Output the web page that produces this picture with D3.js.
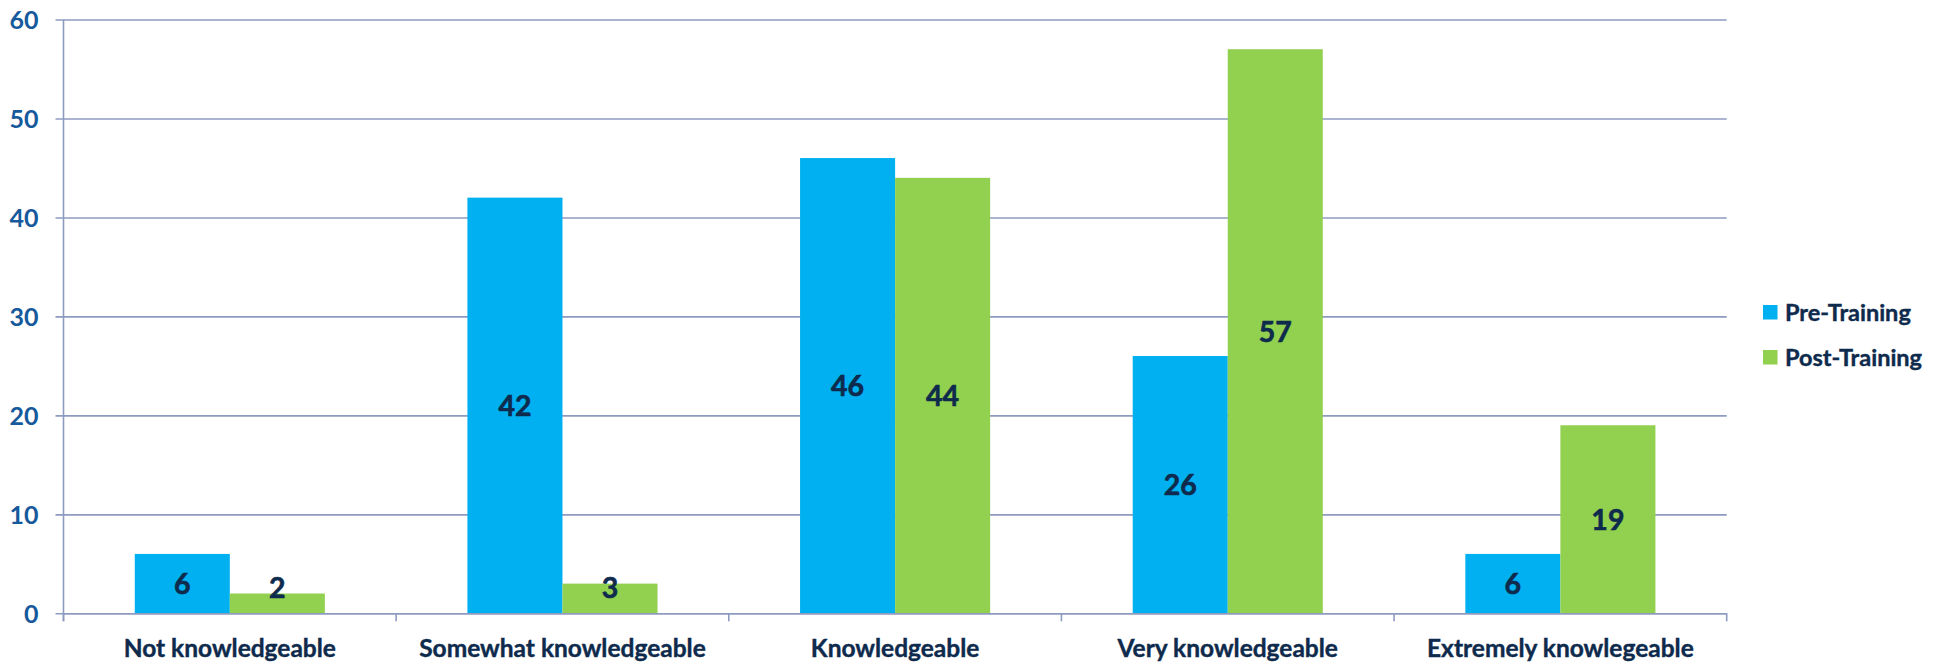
<!DOCTYPE html>
<html>
<head>
<meta charset="utf-8">
<script src="https://cdn.jsdelivr.net/npm/d3@7"></script>
<style>
  html, body { margin: 0; padding: 0; background: #fff; }
  svg { display: block; }
</style>
</head>
<body>
<svg id="chart" width="1952" height="664"></svg>
<script>
// Knowledge levels before and after training
const categories = ["Not knowledgeable", "Somewhat knowledgeable", "Knowledgeable", "Very knowledgeable", "Extremely knowlegeable"];
const seriesNames = ["Pre-Training", "Post-Training"];
const preTraining = [6, 42, 46, 26, 6];
const postTraining = [2, 3, 44, 57, 19];
const yTicks = [0, 10, 20, 30, 40, 50, 60];

const colors = { "Pre-Training": "#00B0F0", "Post-Training": "#92D050" };
const gridColor = "#8E9BC0";
const navy = "#0E2A4C";
const tickBlue = "#175A9C";
const font = "Lato, 'Open Sans', sans-serif";

const svg = d3.select("#chart");
const margin = { left: 63.5, right: 1726.7, top: 19.5, bottom: 613.3 };

const x = d3.scaleBand().domain(categories).range([margin.left, margin.right]).paddingInner(0).paddingOuter(0);
const groupPad = 1.5 / 3.5 / 2; // 150% gap between clusters
const xInner = d3.scaleBand().domain(seriesNames)
  .range([x.bandwidth() * groupPad, x.bandwidth() * (1 - groupPad)]);
const y = d3.scaleLinear().domain([0, 60]).range([margin.bottom, margin.top]);

// horizontal gridlines with short ticks on the left
const yAxis = d3.axisLeft(y).tickValues(yTicks).tickSize(-(margin.right - margin.left));
const gy = svg.append("g").attr("transform", `translate(${margin.left},0)`).call(yAxis);
gy.select(".domain").remove();
gy.selectAll(".tick line").attr("x1", -8).attr("stroke", gridColor).attr("stroke-width", 1.6);
gy.selectAll(".tick text")
  .attr("fill", tickBlue).attr("font-family", font).attr("font-weight", 700)
  .attr("font-size", 25).attr("x", -25).attr("dy", "0.36em");

// vertical axis line
svg.append("line").attr("x1", margin.left).attr("x2", margin.left)
  .attr("y1", y(60)).attr("y2", y(0) + 8)
  .attr("stroke", gridColor).attr("stroke-width", 1.6);

// bars
const rows = categories.map((c, i) => ({ c, values: [
  { s: "Pre-Training", v: preTraining[i] },
  { s: "Post-Training", v: postTraining[i] }
]}));

const groups = svg.append("g").selectAll("g").data(rows).join("g")
  .attr("transform", d => `translate(${x(d.c)},0)`);

groups.selectAll("rect").data(d => d.values).join("rect")
  .attr("x", d => xInner(d.s))
  .attr("width", xInner.bandwidth())
  .attr("y", d => y(d.v))
  .attr("height", d => y(0) - y(d.v))
  .attr("fill", d => colors[d.s]);

// value labels centred in each bar, kept clear of the baseline
groups.selectAll("text").data(d => d.values).join("text")
  .attr("x", d => xInner(d.s) + xInner.bandwidth() / 2)
  .attr("y", d => Math.min((y(d.v) + y(0)) / 2, y(0) - 26))
  .attr("dy", "0.36em")
  .attr("text-anchor", "middle")
  .attr("fill", navy).attr("font-family", font).attr("font-weight", 700).attr("font-size", 28.5)
  .style("paint-order", "stroke").attr("stroke", navy).attr("stroke-width", 0.6)
  .text(d => d.v);

// category axis
const xAxis = d3.axisBottom(x).tickSize(0).tickPadding(0);
const gx = svg.append("g").attr("transform", `translate(0,${y(0)})`).call(xAxis);
gx.select(".domain").attr("stroke", gridColor).attr("stroke-width", 1.6);
gx.selectAll(".tick text")
  .attr("fill", navy).attr("font-family", font).attr("font-weight", 700)
  .attr("font-size", 24.5).attr("y", 43.5).attr("dy", 0)
  .attr("stroke", navy).attr("stroke-width", 0.4);

// category separator ticks
const boundaries = categories.map(c => x(c)).concat([x(categories[categories.length - 1]) + x.bandwidth()]);
svg.append("g").selectAll("line").data(boundaries).join("line")
  .attr("x1", d => d).attr("x2", d => d)
  .attr("y1", y(0)).attr("y2", y(0) + 8)
  .attr("stroke", gridColor).attr("stroke-width", 1.6);

// legend
const legend = svg.append("g").attr("transform", "translate(1763,305)");
const items = legend.selectAll("g").data(seriesNames).join("g")
  .attr("transform", (d, i) => `translate(0,${i * 45})`);
items.append("rect").attr("width", 14.5).attr("height", 14.5).attr("fill", d => colors[d]);
items.append("text").attr("x", 22).attr("y", 7.5).attr("dy", "0.36em")
  .attr("fill", navy).attr("font-family", font).attr("font-weight", 700).attr("font-size", 23.5)
  .attr("stroke", navy).attr("stroke-width", 0.4)
  .text(d => d);
</script>
</body>
</html>
